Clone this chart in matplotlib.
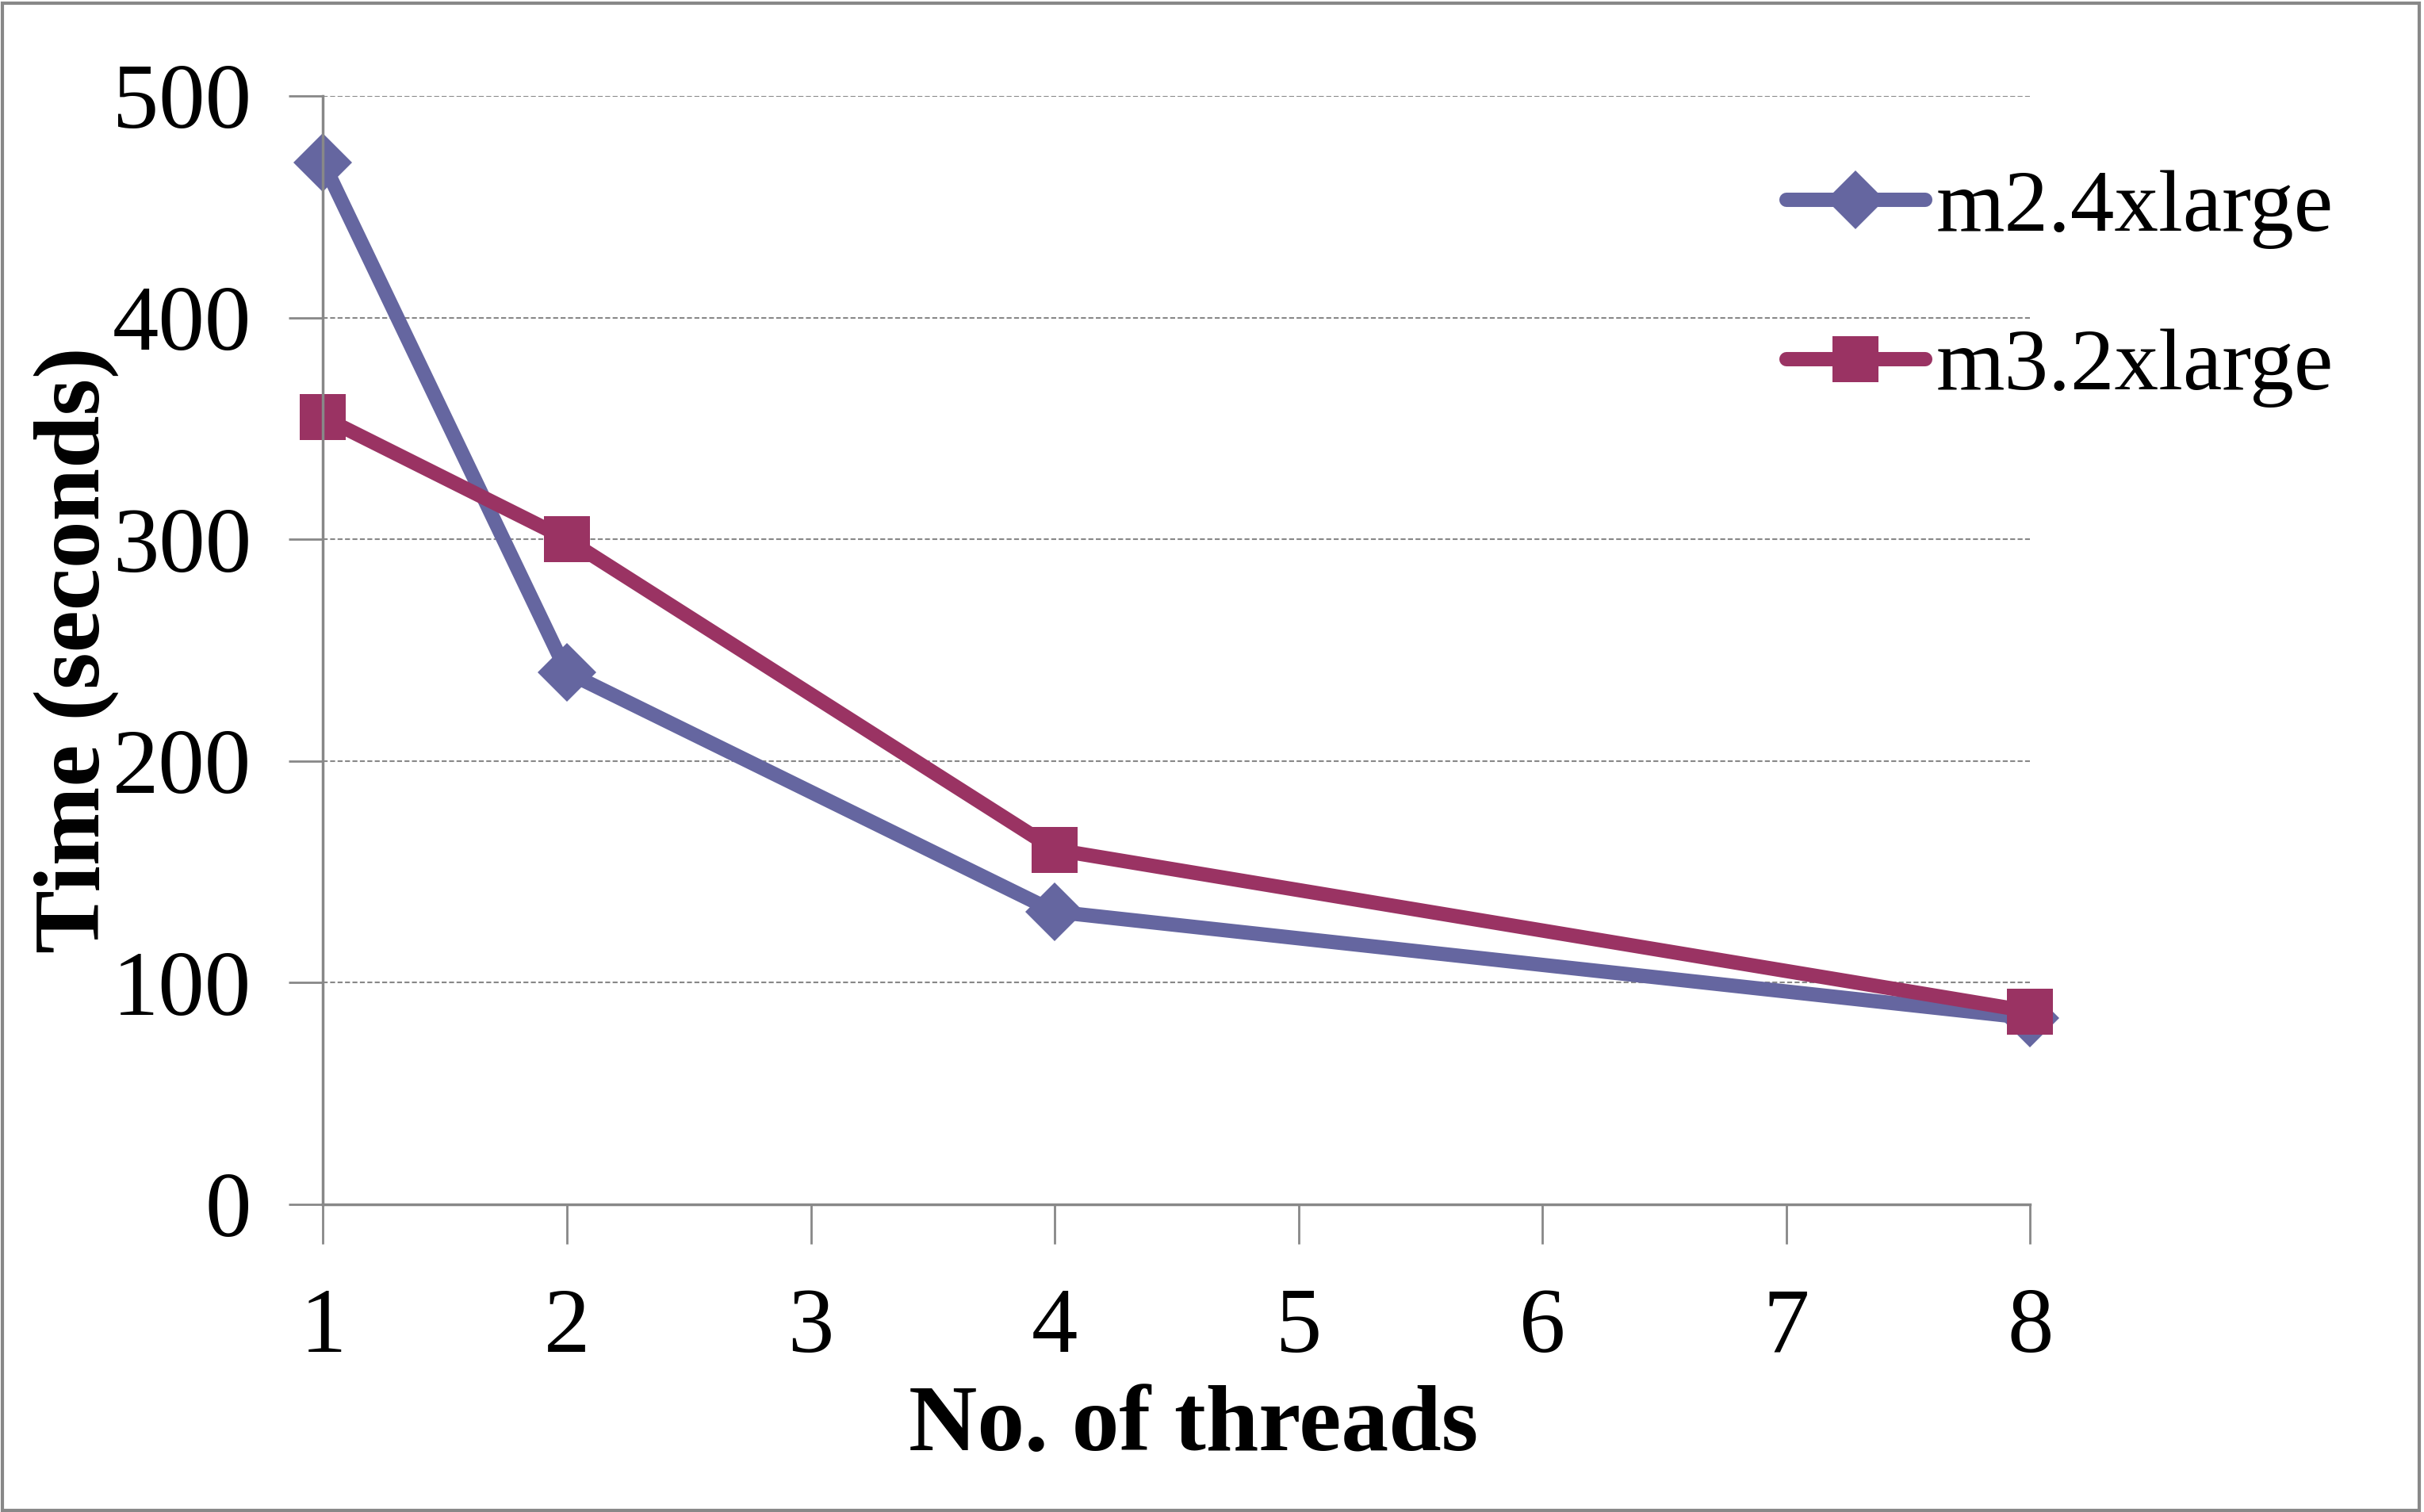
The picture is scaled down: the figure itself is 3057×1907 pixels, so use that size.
import numpy as np
import matplotlib.pyplot as plt
from matplotlib.patches import Rectangle

# thread counts and run times (seconds)
threads = [1, 2, 4, 8]
m2_4xlarge = [470, 240, 132, 84]
m3_2xlarge = [355, 300, 160, 87]
x_ticks = [1, 2, 3, 4, 5, 6, 7, 8]
y_ticks = [0, 100, 200, 300, 400, 500]

plt.rcParams['font.family'] = ['Liberation Serif', 'DejaVu Serif']

fig = plt.figure(figsize=(30.57, 19.07), dpi=100)
ax = fig.add_axes([0.1333, 0.2035, 0.7042, 0.7331])

ax.plot(threads, m2_4xlarge, color='#6566A0', lw=13, marker='D', ms=38,
        markeredgewidth=0, label='m2.4xlarge', solid_joinstyle='round',
        solid_capstyle='round')
ax.plot(threads, m3_2xlarge, color='#9A3363', lw=13, marker='s', ms=42,
        markeredgewidth=0, label='m3.2xlarge', solid_joinstyle='round',
        solid_capstyle='round')

ax.set_xlim(1, 8)
ax.set_ylim(0, 500)
ax.set_xticks(x_ticks)
ax.set_yticks(y_ticks)
ax.set_xticklabels([str(t) for t in x_ticks])
ax.set_yticklabels([str(t) for t in y_ticks])
ax.margins(0)

for g in y_ticks[1:]:
    ax.axhline(g, color='#888888', lw=1.5, ls=(0, (3, 1.5)), zorder=0)

for s in ['top', 'right']:
    ax.spines[s].set_visible(False)
for s in ['left', 'bottom']:
    ax.spines[s].set_color('#888888')
    ax.spines[s].set_linewidth(2.5)

ax.tick_params(axis='both', colors='#888888', width=2, labelcolor='black',
               labelsize=84)
ax.tick_params(axis='y', length=31, pad=34)
ax.tick_params(axis='x', length=36, pad=40)

ax.set_xlabel('No. of threads', fontsize=86, fontweight='bold', labelpad=0)
ax.xaxis.set_label_coords(0.51, -0.163)
ax.set_ylabel('Time (seconds)', fontsize=86, fontweight='bold', labelpad=-6)

for line in ax.lines[:2]:
    line.set_clip_on(False)

leg = ax.legend(loc='upper left', bbox_to_anchor=(0.8365, 0.966), frameon=False,
                fontsize=80, handlelength=1.58, handletextpad=0.12,
                labelspacing=0.9, borderaxespad=0)

fig.patches.append(Rectangle((0.001, 0.001), 0.997, 0.997, transform=fig.transFigure,
                             fill=False, edgecolor='#888888', lw=3))

fig.savefig('out.png', dpi=100)
